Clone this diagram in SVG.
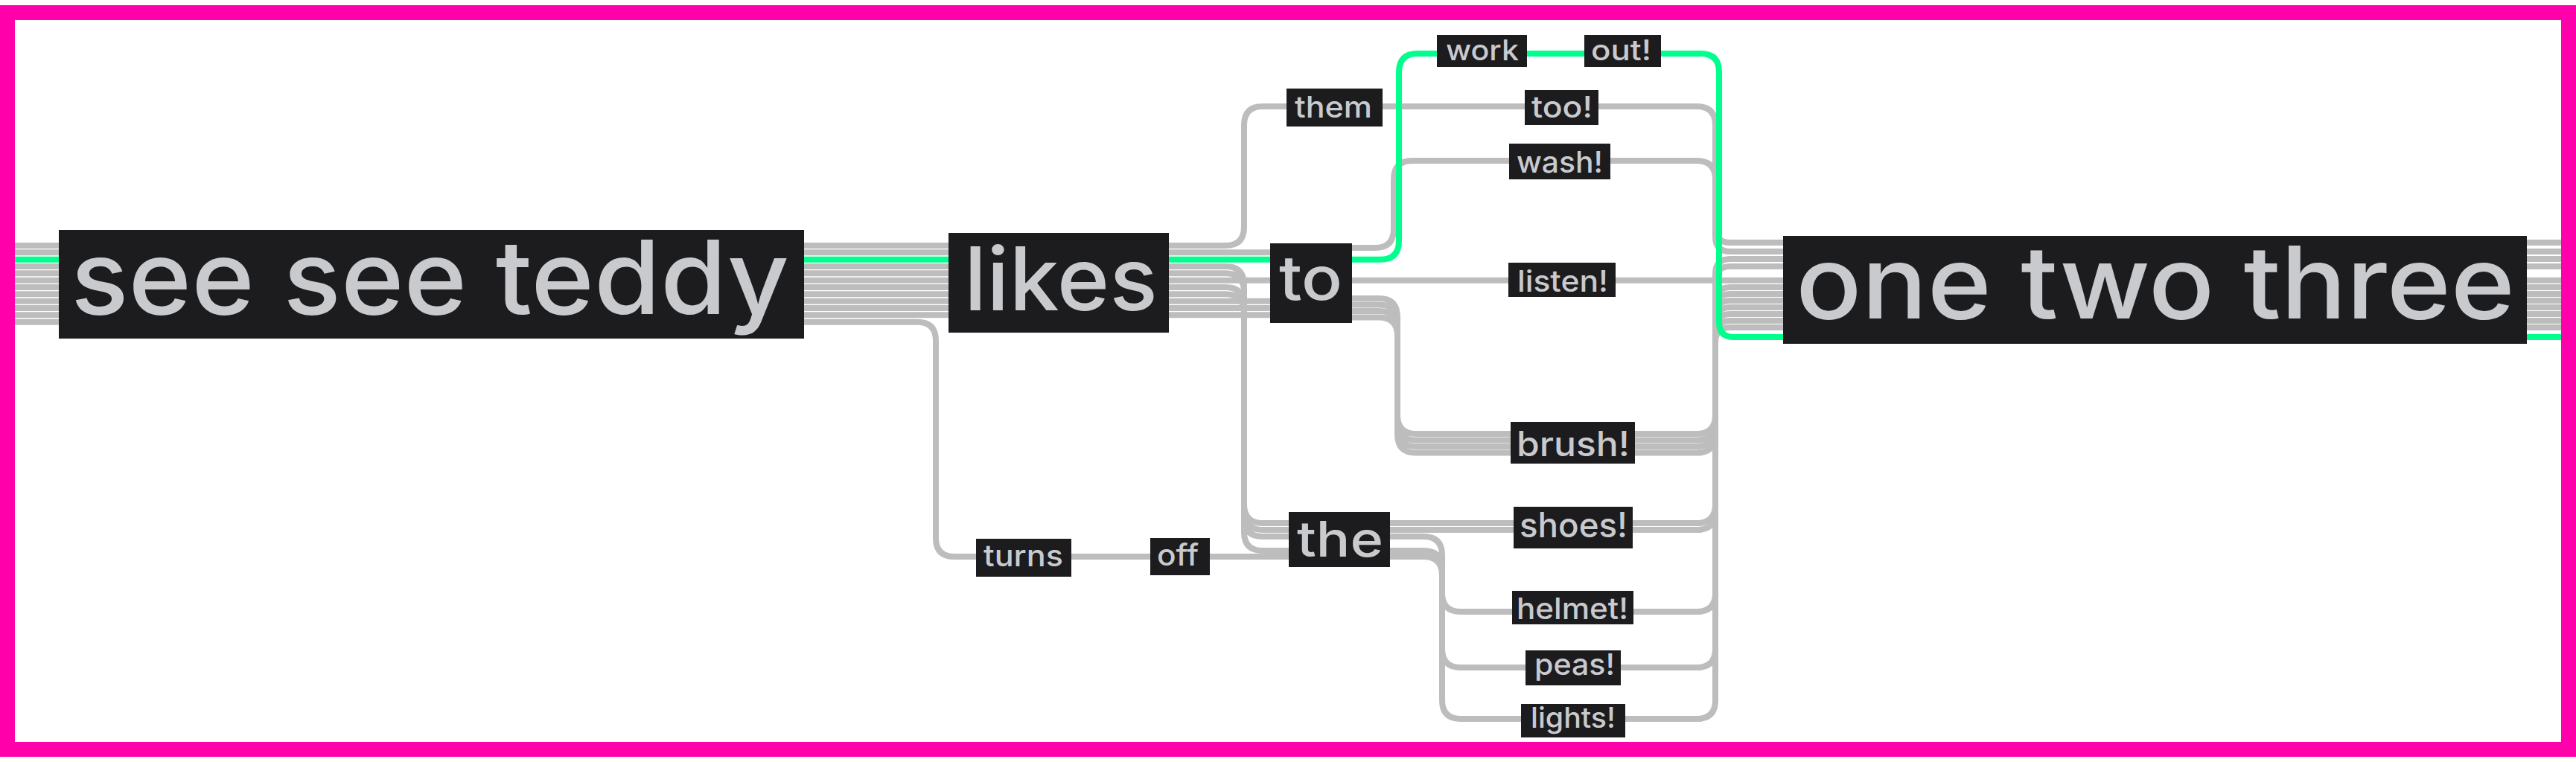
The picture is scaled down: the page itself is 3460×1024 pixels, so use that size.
<svg xmlns="http://www.w3.org/2000/svg" width="3460" height="1024" viewBox="0 0 3460 1024">
<style>
.w{fill:none;stroke:#BDBDBD;stroke-width:8;stroke-linejoin:round}
.g{fill:none;stroke:#00FF8C;stroke-width:8}
.n{fill:#1C1B1E}
.t{fill:#C8CACD;font-family:Inter,"Liberation Sans",sans-serif;font-weight:500}
</style>
<rect x="0" y="0" width="3460" height="1024" fill="#fff"/>
<rect x="10" y="17" width="3440" height="990" fill="#fff" stroke="#FF00AA" stroke-width="20"/>
<g id="connectors">
<path class="w" d="M20 330 H1646 Q1671 330 1671 305 V168 Q1671 143 1696 143 H2279 Q2304 143 2304 168 V306 Q2304 326 2324 326 H3440"/>
<path class="w" d="M20 339.3 H1760 V333 H1847 Q1872 333 1872 308 V241 Q1872 216 1897 216 H2279 Q2304 216 2304 241 V318 Q2304 338 2324 338 H3440"/>
<path class="w" d="M20 358 H1646 Q1671 358 1671 383 V678 Q1671 703 1696 703 H2279 Q2304 703 2304 678 V424 Q2304 404 2324 404 H3440"/>
<path class="w" d="M20 367.3 H1646 Q1671 367.3 1671 392.3 V687 Q1671 712 1696 712 H2279 Q2304 712 2304 687 V415 Q2304 395 2324 395 H3440"/>
<path class="w" d="M20 376.7 H3440"/>
<path class="w" d="M20 386 H1646 Q1671 386 1671 411 V696 Q1671 721 1696 721 H1912 Q1937 721 1937 746 V797 Q1937 822 1962 822 H2279 Q2304 822 2304 797 V406 Q2304 386 2324 386 H3440"/>
<path class="w" d="M20 395.3 H1646 Q1671 395.3 1671 420.3 V715 Q1671 740 1696 740 H1912 Q1937 740 1937 765 V872 Q1937 897 1962 897 H2279 Q2304 897 2304 872 V378 Q2304 358 2324 358 H3440"/>
<path class="w" d="M20 404.7 H1760 V401 H1852 Q1877 401 1877 426 V558 Q1877 583 1902 583 H2279 Q2304 583 2304 558 V460 Q2304 440 2324 440 H3440"/>
<path class="w" d="M20 414 H1760 V409.5 H1852 Q1877 409.5 1877 434.5 V566.5 Q1877 591.5 1902 591.5 H2279 Q2304 591.5 2304 566.5 V451 Q2304 431 2324 431 H3440"/>
<path class="w" d="M20 423.3 H1760 V418 H1852 Q1877 418 1877 443 V575 Q1877 600 1902 600 H2279 Q2304 600 2304 575 V442 Q2304 422 2324 422 H3440"/>
<path class="w" d="M1760 426.5 H1852 Q1877 426.5 1877 451.5 V583.5 Q1877 608.5 1902 608.5 H2279 Q2304 608.5 2304 583.5 V433 Q2304 413 2324 413 H3440"/>
<path class="w" d="M20 432.7 H1232 Q1257 432.7 1257 457.7 V723 Q1257 748 1282 748 H1912 Q1937 748 1937 773 V941 Q1937 966 1962 966 H2279 Q2304 966 2304 941 V368 Q2304 348 2324 348 H3440"/>
<path class="g" d="M20 348.7 H1854 Q1879 348.7 1879 323.7 V97 Q1879 72 1904 72 H2284 Q2309 72 2309 97 V433 Q2309 453 2329 453 H3440"/>
</g>
<g id="n-seeseeteddy"><rect class="n" x="79" y="309" width="1001" height="146"/><text class="t" x="95" y="422" font-size="138" textLength="965" lengthAdjust="spacingAndGlyphs">see see teddy</text></g>
<g id="n-likes"><rect class="n" x="1274" y="313" width="296" height="134"/><text class="t" x="1295" y="417" font-size="118" textLength="260" lengthAdjust="spacingAndGlyphs">likes</text></g>
<g id="n-to"><rect class="n" x="1706" y="327" width="110" height="107"/><text class="t" x="1718" y="403" font-size="82" textLength="85" lengthAdjust="spacingAndGlyphs">to</text></g>
<g id="n-them"><rect class="n" x="1728" y="119" width="129" height="51"/><text class="t" x="1739" y="158" font-size="40" textLength="104" lengthAdjust="spacingAndGlyphs">them</text></g>
<g id="n-work"><rect class="n" x="1930" y="47" width="121" height="43"/><text class="t" x="1942" y="81" font-size="38" textLength="98" lengthAdjust="spacingAndGlyphs">work</text></g>
<g id="n-out"><rect class="n" x="2128" y="47" width="103" height="43"/><text class="t" x="2137" y="81" font-size="38" textLength="81" lengthAdjust="spacingAndGlyphs">out!</text></g>
<g id="n-too"><rect class="n" x="2048" y="121" width="99" height="47"/><text class="t" x="2057" y="158" font-size="40" textLength="82" lengthAdjust="spacingAndGlyphs">too!</text></g>
<g id="n-wash"><rect class="n" x="2027" y="193" width="136" height="48"/><text class="t" x="2037" y="232" font-size="40" textLength="116" lengthAdjust="spacingAndGlyphs">wash!</text></g>
<g id="n-listen"><rect class="n" x="2026" y="353" width="144" height="46"/><text class="t" x="2038" y="392" font-size="40" textLength="122" lengthAdjust="spacingAndGlyphs">listen!</text></g>
<g id="n-brush"><rect class="n" x="2029" y="567" width="167" height="56"/><text class="t" x="2037" y="613" font-size="46" textLength="152" lengthAdjust="spacingAndGlyphs">brush!</text></g>
<g id="n-the"><rect class="n" x="1731" y="688" width="136" height="74"/><text class="t" x="1742" y="748" font-size="66" textLength="116" lengthAdjust="spacingAndGlyphs">the</text></g>
<g id="n-shoes"><rect class="n" x="2033" y="681" width="160" height="56"/><text class="t" x="2041" y="722" font-size="46" textLength="145" lengthAdjust="spacingAndGlyphs">shoes!</text></g>
<g id="n-helmet"><rect class="n" x="2031" y="794" width="163" height="45"/><text class="t" x="2037" y="832" font-size="40" textLength="150" lengthAdjust="spacingAndGlyphs">helmet!</text></g>
<g id="n-peas"><rect class="n" x="2049" y="874" width="128" height="47"/><text class="t" x="2061" y="907" font-size="40" textLength="108" lengthAdjust="spacingAndGlyphs">peas!</text></g>
<g id="n-lights"><rect class="n" x="2043" y="946" width="140" height="45"/><text class="t" x="2056" y="978" font-size="38" textLength="114" lengthAdjust="spacingAndGlyphs">lights!</text></g>
<g id="n-turns"><rect class="n" x="1311" y="724" width="128" height="51"/><text class="t" x="1321" y="761" font-size="40" textLength="107" lengthAdjust="spacingAndGlyphs">turns</text></g>
<g id="n-off"><rect class="n" x="1545" y="723" width="80" height="50"/><text class="t" x="1554" y="760" font-size="40" textLength="56" lengthAdjust="spacingAndGlyphs">off</text></g>
<g id="n-onetwothree"><rect class="n" x="2395" y="317" width="999" height="145"/><text class="t" x="2412" y="428" font-size="135" textLength="966" lengthAdjust="spacingAndGlyphs">one two three</text></g>
</svg>
